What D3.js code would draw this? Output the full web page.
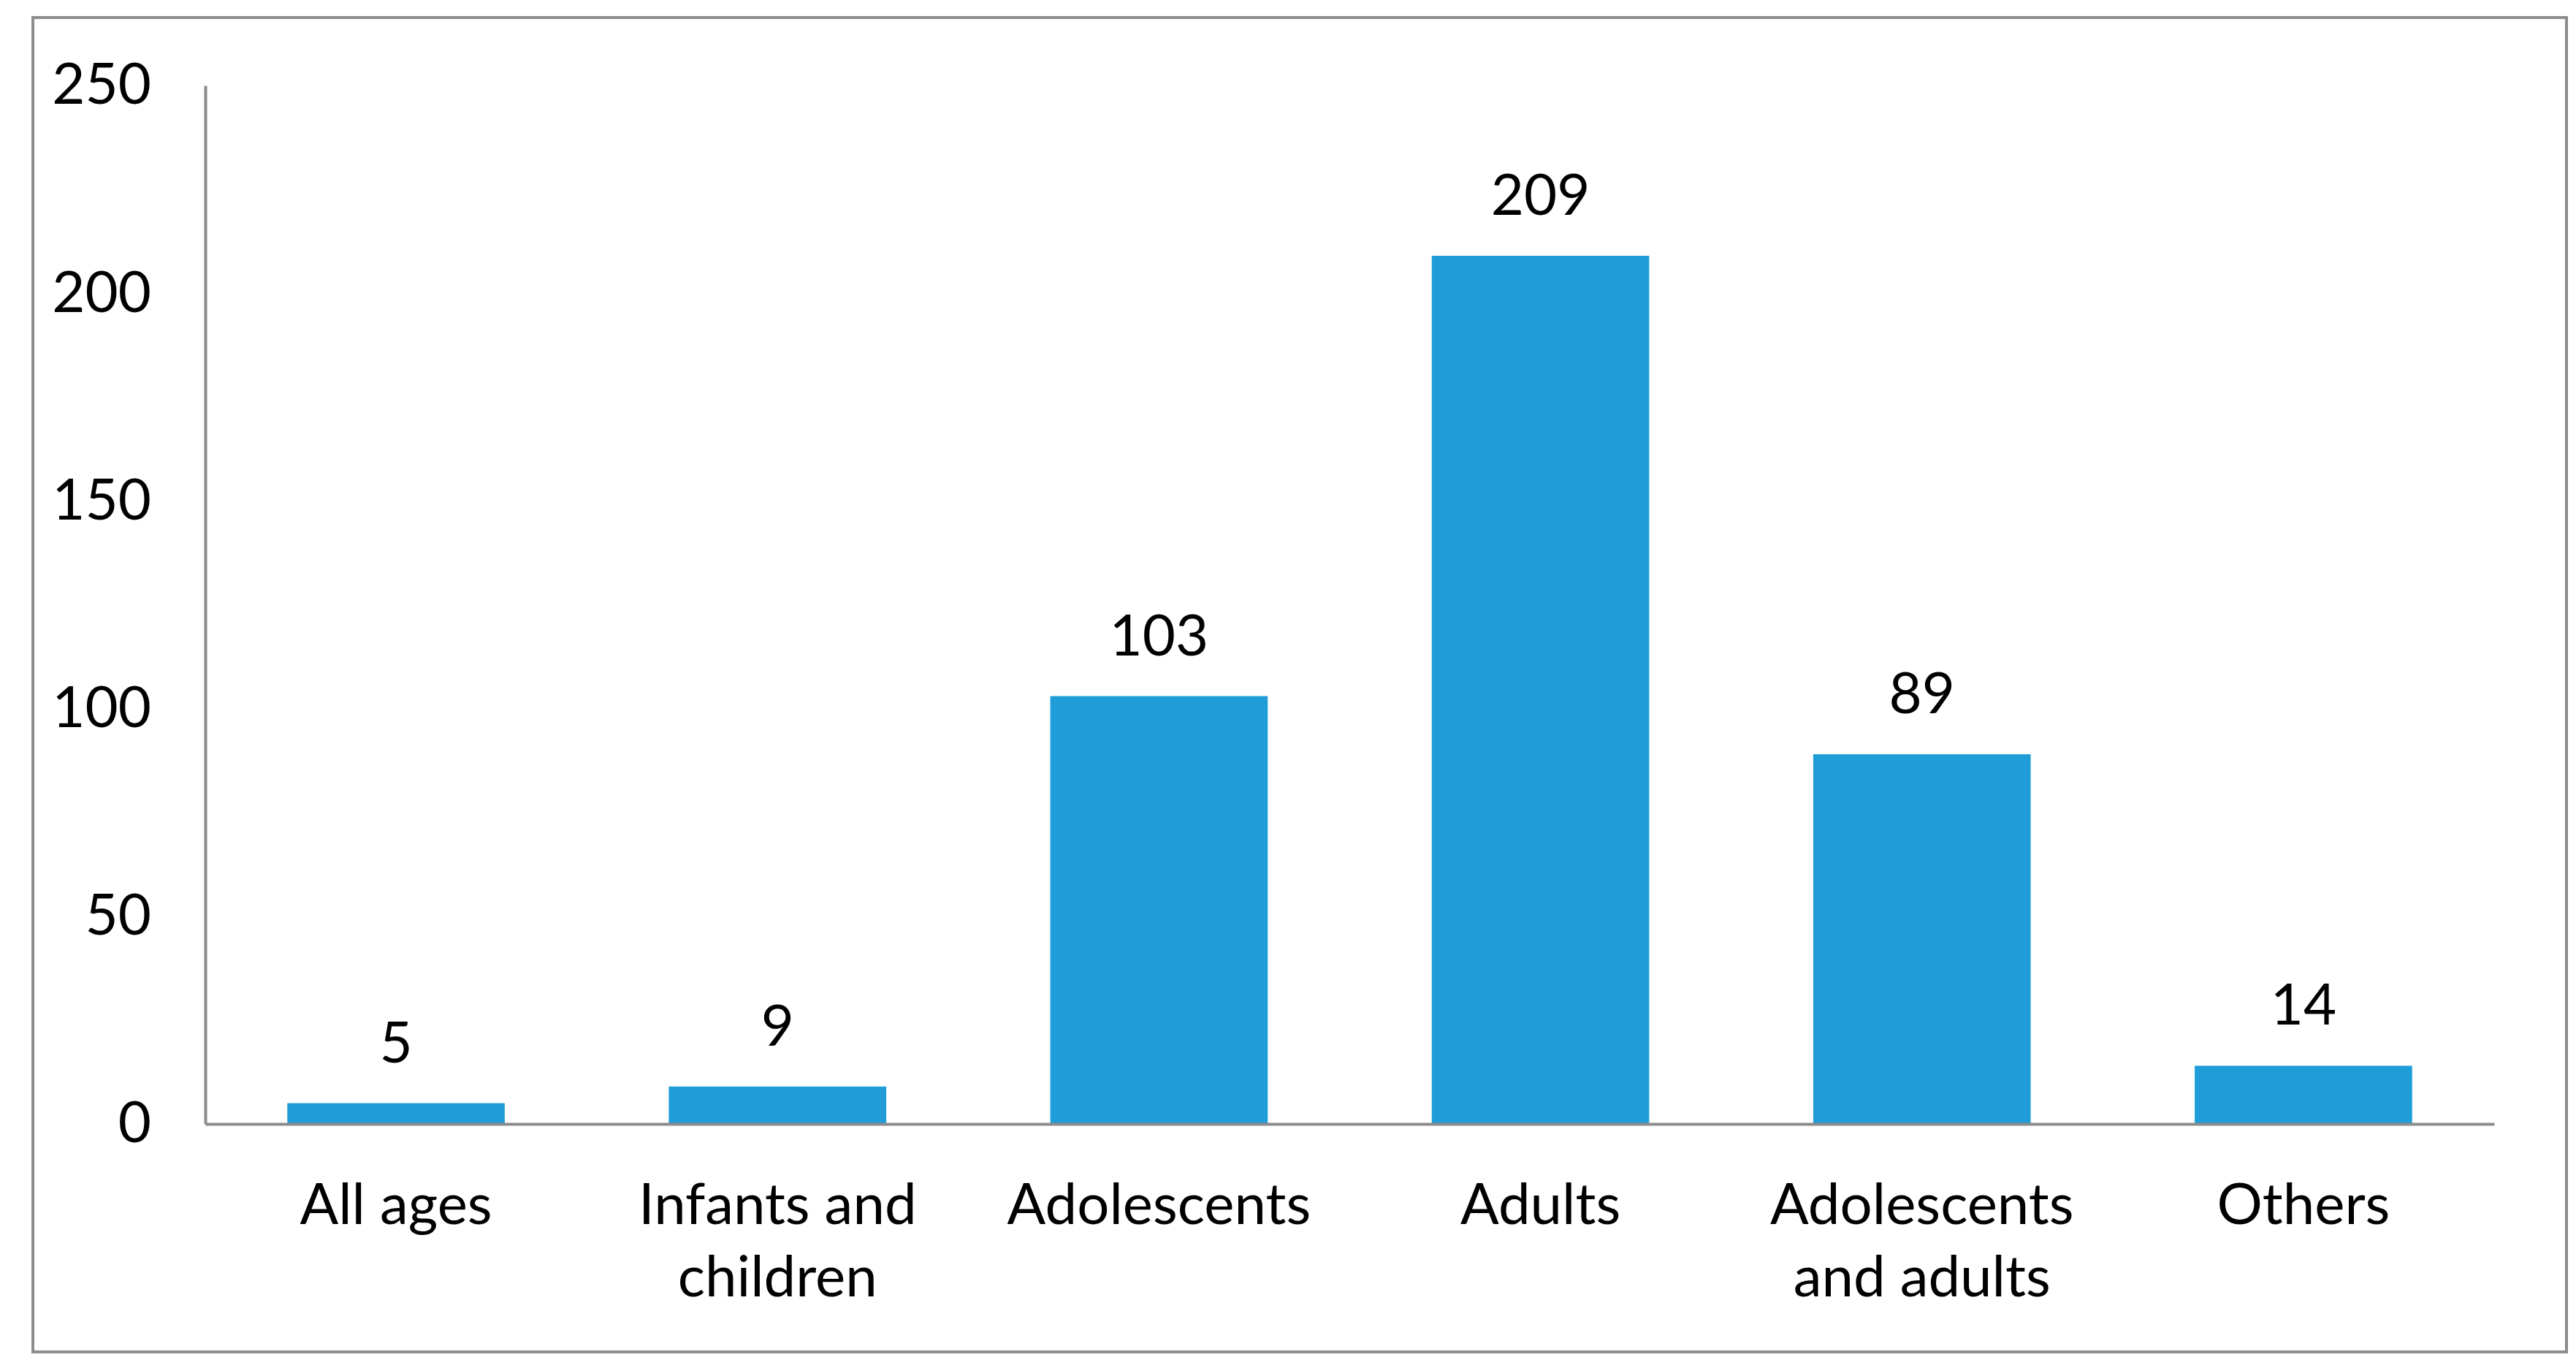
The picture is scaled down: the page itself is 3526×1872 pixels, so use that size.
<!DOCTYPE html>
<html>
<head>
<meta charset="utf-8">
<script src="https://cdn.jsdelivr.net/npm/d3@7"></script>
<style>
  html, body { margin: 0; padding: 0; background: #fff; }
  .chart__text { font-family: Lato, "Open Sans", sans-serif; fill: #000; }
</style>
</head>
<body>
<div id="chart"></div>
<script>
// Chart data
const categories = ["All ages", "Infants and children", "Adolescents", "Adults", "Adolescents and adults", "Others"];
const tickLines = [["All ages"], ["Infants and", "children"], ["Adolescents"], ["Adults"], ["Adolescents", "and adults"], ["Others"]];
const values = [5, 9, 103, 209, 89, 14];
const yTicks = [0, 50, 100, 150, 200, 250];

const W = 3526, H = 1872;
const margin = { top: 117, right: 112, bottom: 334, left: 281 };
const width = W - margin.left - margin.right;
const height = H - margin.top - margin.bottom;
const fontSize = 78;
const gray = "#8c8c8c";

const svg = d3.select("#chart")
  .append("svg")
  .attr("width", W)
  .attr("height", H);

// Outer frame
svg.append("rect")
  .attr("x", 45)
  .attr("y", 24)
  .attr("width", 3468)
  .attr("height", 1826)
  .attr("fill", "none")
  .attr("stroke", gray)
  .attr("stroke-width", 4);

const g = svg.append("g")
  .attr("transform", `translate(${margin.left},${margin.top})`);

// Scales
const x = d3.scaleBand()
  .domain(categories)
  .range([0, width])
  .paddingInner(0.43)
  .paddingOuter(0.215);

const y = d3.scaleLinear()
  .domain([0, 250])
  .range([height, 0]);

// Bars
g.selectAll("rect.bar")
  .data(values)
  .enter()
  .append("rect")
  .attr("class", "bar")
  .attr("x", (d, i) => x(categories[i]))
  .attr("y", d => y(d))
  .attr("width", x.bandwidth())
  .attr("height", d => height - y(d))
  .attr("fill", "#1e9dd8");

// Y axis
const gY = g.append("g")
  .call(d3.axisLeft(y).tickValues(yTicks).tickSize(0).tickPadding(74));
gY.select(".domain").attr("stroke", gray).attr("stroke-width", 4);
gY.selectAll("text")
  .attr("class", "chart__text")
  .style("font-size", fontSize + "px");

// X axis
const gX = g.append("g")
  .attr("transform", `translate(0,${height})`)
  .call(d3.axisBottom(x).tickSize(0).tickFormat(""));
gX.select(".domain").attr("stroke", gray).attr("stroke-width", 4);

// X tick labels (multi-line)
const xLabel = g.selectAll("text.xlabel")
  .data(categories)
  .enter()
  .append("text")
  .attr("class", "chart__text xlabel")
  .attr("text-anchor", "middle")
  .attr("x", d => x(d) + x.bandwidth() / 2)
  .attr("y", height + 137)
  .style("font-size", fontSize + "px");

xLabel.selectAll("tspan")
  .data((d, i) => tickLines[i])
  .enter()
  .append("tspan")
  .attr("x", function () { return d3.select(this.parentNode).attr("x"); })
  .attr("dy", (d, i) => i === 0 ? 0 : 99)
  .text(d => d);

// Value labels
g.selectAll("text.value")
  .data(values)
  .enter()
  .append("text")
  .attr("class", "chart__text value")
  .attr("text-anchor", "middle")
  .attr("x", (d, i) => x(categories[i]) + x.bandwidth() / 2)
  .attr("y", d => y(d) - 56)
  .style("font-size", fontSize + "px")
  .text(d => d);
</script>
</body>
</html>
